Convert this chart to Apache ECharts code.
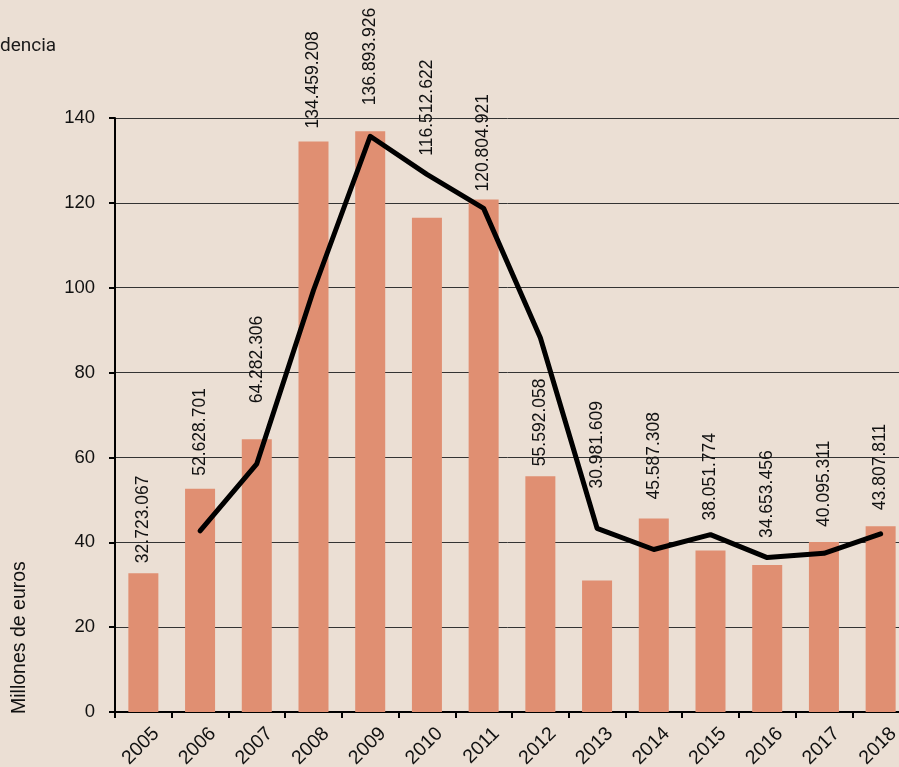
<!DOCTYPE html>
<html>
<head>
<meta charset="utf-8">
<script src="https://cdn.jsdelivr.net/npm/echarts@6/dist/echarts.min.js"></script>
<style>
  html, body { margin: 0; padding: 0; background: #ebdfd4; }
  #main { width: 899px; height: 767px; }
</style>
</head>
<body>
<div id="main"></div>
<script>
// datos
var years = ['2005','2006','2007','2008','2009','2010','2011','2012','2013','2014','2015','2016','2017','2018'];
var importe = [32.723, 52.629, 64.282, 134.459, 136.894, 116.513, 120.805, 55.592, 30.982, 45.587, 38.052, 34.653, 40.095, 43.808];
var etiquetas = ['32.723.067','52.628.701','64.282.306','134.459.208','136.893.926','116.512.622','120.804.921',
                 '55.592.058','30.981.609','45.587.308','38.051.774','34.653.456','40.095.311','43.807.811'];
// tendencia (media de dos años)
var tendencia = ['-', 42.7, 58.5, 99.4, 135.7, 126.7, 118.7, 88.2, 43.3, 38.3, 41.8, 36.4, 37.4, 42.0];

// separación de cada etiqueta sobre su barra (px), movidas a mano para no pisar la línea
var separacion = [10, 13, 36, 13, 26, 62, 8, 10, 92, 19, 30, 27, 15, 16];

var myChart = echarts.init(document.getElementById('main'));
var fuente = '"Liberation Sans", Arial, sans-serif';

var barData = importe.map(function (v, i) {
    return { value: v, label: { distance: separacion[i] } };
});

var option = {
    backgroundColor: '#ebdfd4',
    animation: false,
    title: {
        text: 'dencia',
        left: -5,
        top: 32,
        textStyle: { fontFamily: 'Roboto, sans-serif', fontSize: 19, fontWeight: 'normal', color: '#1a1a1a' }
    },
    grid: { left: 115, right: -10, top: 118, bottom: 55, outerBoundsMode: 'none' },
    xAxis: {
        type: 'category',
        data: years,
        axisLine: { lineStyle: { color: '#000', width: 2 } },
        axisTick: { show: true, length: 6, lineStyle: { color: '#000', width: 2 } },
        axisLabel: {
            rotate: 45, interval: 0, margin: 6,
            verticalAlign: 'top',
            padding: [8, 0, 0, 0],
            color: '#111', fontFamily: fuente, fontSize: 19.5
        }
    },
    yAxis: {
        type: 'value',
        min: 0, max: 140, interval: 20,
        axisLine: { show: true, lineStyle: { color: '#000', width: 2 } },
        axisTick: { show: true, length: 6, lineStyle: { color: '#000', width: 2 } },
        splitLine: { lineStyle: { color: '#333', width: 1 } },
        axisLabel: { margin: 20, color: '#111', fontFamily: fuente, fontSize: 18.5 }
    },
    graphic: [{
        type: 'text',
        x: 20, y: 714,
        rotation: Math.PI / 2,
        style: {
            text: 'Millones de euros',
            fill: '#111',
            font: '19.5px "Liberation Sans", Arial, sans-serif',
            textAlign: 'left',
            textVerticalAlign: 'middle'
        }
    }],
    series: [
        {
            name: 'Importe',
            type: 'bar',
            data: barData,
            barWidth: 30,
            itemStyle: { color: '#e08f72' },
            label: {
                show: true,
                position: 'top',
                rotate: 90,
                align: 'left',
                verticalAlign: 'middle',
                color: '#111',
                fontFamily: fuente,
                fontSize: 17.5,
                formatter: function (p) { return etiquetas[p.dataIndex]; }
            }
        },
        {
            name: 'Tendencia',
            type: 'line',
            data: tendencia,
            symbol: 'none',
            lineStyle: { color: '#000', width: 5, cap: 'round', join: 'round' },
            z: 5
        }
    ]
};
myChart.setOption(option);
</script>
</body>
</html>
